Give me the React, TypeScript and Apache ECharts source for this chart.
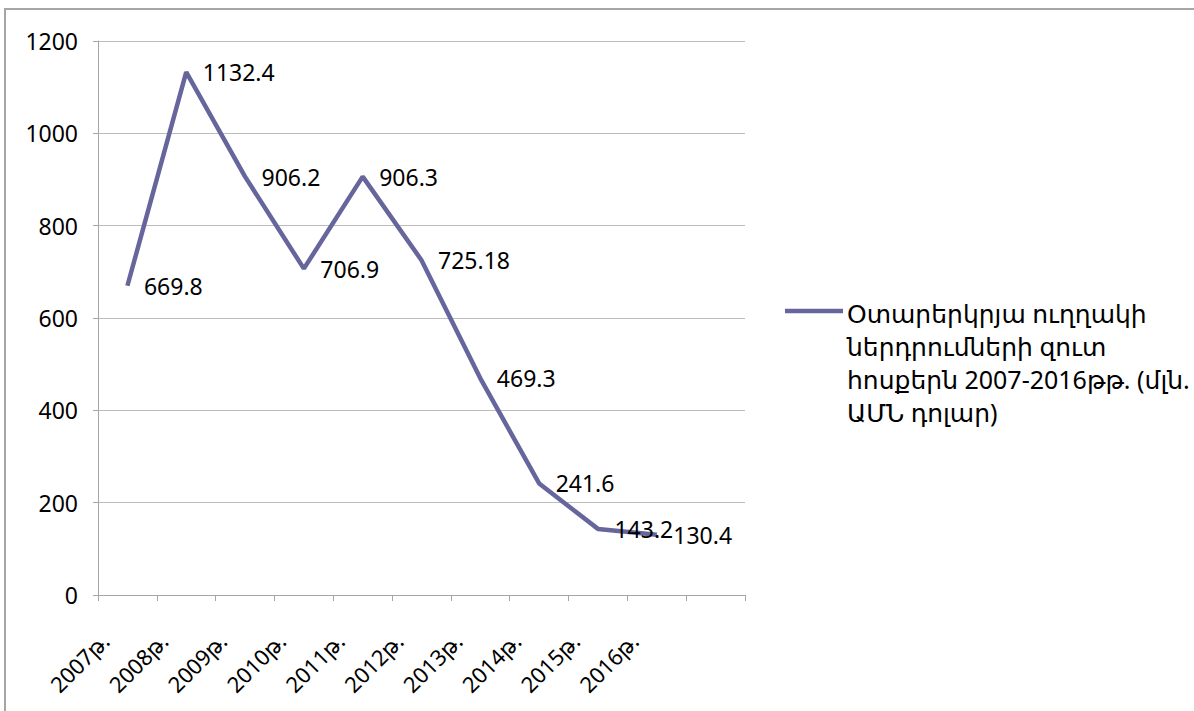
import React, { useEffect, useRef } from "react";
import * as echarts from "echarts";

const categories = ["2007թ.", "2008թ.", "2009թ.", "2010թ.", "2011թ.", "2012թ.", "2013թ.", "2014թ.", "2015թ.", "2016թ.", ""];
const values: (number | null)[] = [669.8, 1132.4, 906.2, 706.9, 906.3, 725.18, 469.3, 241.6, 143.2, 130.4, null];
const seriesName = "Օտարերկրյա ուղղակի\nներդրումների զուտ\nհոսքերն 2007-2016թթ. (մլն.\nԱՄՆ դոլար)";
const yTicks = { min: 0, max: 1200, interval: 200 };

const FONT = "'Noto Sans', 'DejaVu Sans', sans-serif";
const LINE_COLOR = "#66669c";

export default function App() {
  const ref = useRef<HTMLDivElement>(null);
  useEffect(() => {
    if (!ref.current) return;
    const chart = echarts.init(ref.current, null, { renderer: "svg" });
    chart.setOption({
      animation: false,
      backgroundColor: "#ffffff",
      grid: { left: 98, right: 449, top: 41, bottom: 116, containLabel: false },
      xAxis: {
        type: "category",
        data: categories,
        boundaryGap: true,
        axisLine: { show: true, lineStyle: { color: "#a6a6a6", width: 1 } },
        axisTick: { show: true, length: 6, lineStyle: { color: "#a6a6a6" }, interval: 0 },
        axisLabel: {
          rotate: 45,
          interval: 0,
          margin: 19,
          padding: [0, 32, 0, 0],
          color: "#000",
          fontSize: 22,
          fontFamily: FONT,
        },
        splitLine: { show: false },
      },
      yAxis: {
        type: "value",
        min: yTicks.min,
        max: yTicks.max,
        interval: yTicks.interval,
        axisLine: { show: true, lineStyle: { color: "#a6a6a6", width: 1 } },
        axisTick: { show: true, length: 5, lineStyle: { color: "#a6a6a6" } },
        axisLabel: {
          margin: 20,
          color: "#000",
          fontSize: 23,
          fontFamily: FONT,
          formatter: (v: number) => String(v),
        },
        splitLine: { show: true, lineStyle: { color: "#bcbcbc", width: 1 } },
      },
      series: [
        {
          type: "line",
          name: "series",
          data: values,
          showSymbol: true,
          symbol: "circle",
          symbolSize: 1,
          lineStyle: { color: LINE_COLOR, width: 4.5 },
          itemStyle: { color: "transparent", borderWidth: 0 },
          label: {
            show: true,
            position: "right",
            distance: 16,
            color: "#000",
            fontSize: 23,
            fontFamily: FONT,
            formatter: (p: any) => String(p.value),
          },
        },
      ],
      graphic: [
        {
          type: "rect",
          shape: { x: 5, y: 9, width: 1300, height: 800 },
          style: { fill: "none", stroke: "#a6a6a6", lineWidth: 2 },
          silent: true,
        },
        {
          type: "line",
          shape: { x1: 785, y1: 311, x2: 843, y2: 311 },
          style: { stroke: LINE_COLOR, lineWidth: 4.5 },
        },
        {
          type: "text",
          x: 847,
          y: 296,
          style: {
            text: seriesName,
            fill: "#000",
            fontSize: 25,
            fontFamily: FONT,
            lineHeight: 33,
            verticalAlign: "top",
          },
        },
      ],
    });
    return () => chart.dispose();
  }, []);
  return (
    <div
      ref={ref}
      style={{ position: "fixed", left: 0, top: 0, width: 1194, height: 711 }}
    />
  );
}
